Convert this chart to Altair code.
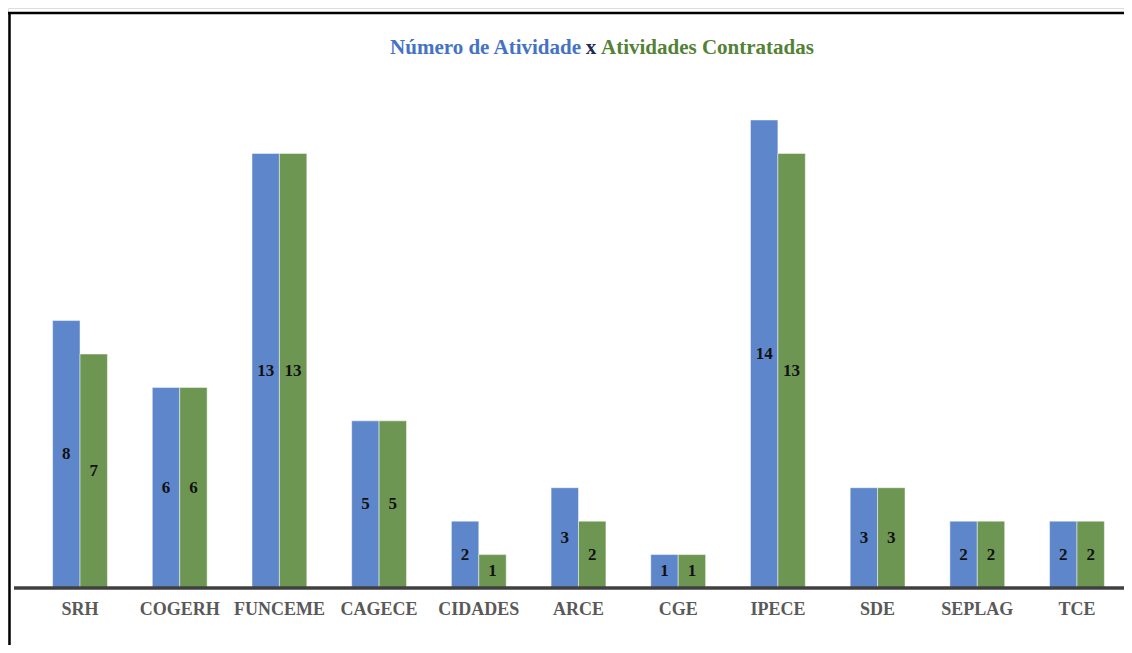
import altair as alt
import pandas as pd

categories = ["SRH", "COGERH", "FUNCEME", "CAGECE", "CIDADES", "ARCE", "CGE", "IPECE", "SDE", "SEPLAG", "TCE"]
num_atividade = [8, 6, 13, 5, 2, 3, 1, 14, 3, 2, 2]
contratadas = [7, 6, 13, 5, 1, 2, 1, 13, 3, 2, 2]
series = ["Número de Atividade", "Atividades Contratadas"]
colors = ["#5E86CB", "#6E9653"]

rows = []
for c, a, b in zip(categories, num_atividade, contratadas):
    rows.append({"cat": c, "serie": series[0], "v": a})
    rows.append({"cat": c, "serie": series[1], "v": b})
df = pd.DataFrame(rows)
df["mid"] = df["v"] / 2.0

FONT = "Liberation Serif"
W, H = 1116, 637
unit = 33.43
ymin = -(H - 580) / unit
ymax = 580 / unit

xscale = alt.Scale(domain=categories, range=[44.6, 1096.4], paddingInner=0.45, paddingOuter=0)
yscale = alt.Scale(domain=[ymin, ymax], zero=False, nice=False)
offs = alt.Scale(domain=series, paddingInner=0, paddingOuter=0)
col = alt.Scale(domain=series, range=colors)

base = alt.Chart(df)

bars = base.mark_bar(stroke="#ffffff", strokeWidth=0.8, strokeOpacity=0.6).encode(
    x=alt.X("cat:N", scale=xscale, axis=None, sort=categories),
    xOffset=alt.XOffset("serie:N", scale=offs, sort=series),
    y=alt.Y("v:Q", scale=yscale, axis=None),
    y2=alt.datum(0),
    color=alt.Color("serie:N", scale=col, legend=None),
)

labels = base.mark_text(font=FONT, fontSize=17, fontWeight="bold", color="#111111", baseline="middle").encode(
    x=alt.X("cat:N", scale=xscale, axis=None, sort=categories),
    xOffset=alt.XOffset("serie:N", scale=offs, sort=series),
    y=alt.Y("mid:Q", scale=yscale, axis=None),
    text=alt.Text("v:Q"),
)

catdf = pd.DataFrame({"cat": categories})
catlabels = alt.Chart(catdf).mark_text(font=FONT, fontSize=18, fontWeight="bold", color="#595959", baseline="middle").encode(
    x=alt.X("cat:N", scale=xscale, axis=None, sort=categories),
    y=alt.value(602),
    text="cat:N",
)

axisline = alt.Chart(catdf.head(1)).mark_rule(color="#404040", strokeWidth=3.5).encode(
    x=alt.value(6), x2=alt.value(W), y=alt.value(580)
)

border_left = alt.Chart(catdf.head(1)).mark_rule(color="#000000", strokeWidth=2.5).encode(
    x=alt.value(1.5), y=alt.value(4), y2=alt.value(H)
)
border_top = alt.Chart(catdf.head(1)).mark_rule(color="#000000", strokeWidth=2.5).encode(
    x=alt.value(0), x2=alt.value(W), y=alt.value(5)
)

t1 = alt.Chart(pd.DataFrame({"t": [series[0]]})).mark_text(
    font=FONT, fontSize=21, fontWeight="bold", color="#4472C4", align="right", baseline="middle"
).encode(text="t:N", x=alt.value(573), y=alt.value(40))
t2 = alt.Chart(pd.DataFrame({"t": ["x"]})).mark_text(
    font=FONT, fontSize=21, fontWeight="bold", color="#1F2A55", align="center", baseline="middle"
).encode(text="t:N", x=alt.value(583), y=alt.value(40))
t3 = alt.Chart(pd.DataFrame({"t": [series[1]]})).mark_text(
    font=FONT, fontSize=21, fontWeight="bold", color="#538135", align="left", baseline="middle"
).encode(text="t:N", x=alt.value(593), y=alt.value(40))

chart = alt.layer(bars, labels, axisline, catlabels, border_left, border_top, t1, t2, t3).properties(
    width=W, height=H, padding=0, autosize=alt.AutoSizeParams(type="none")
).configure_view(stroke=None).configure(background="#ffffff")

chart.save("out.html", embed_options={"renderer": "svg", "actions": False})
